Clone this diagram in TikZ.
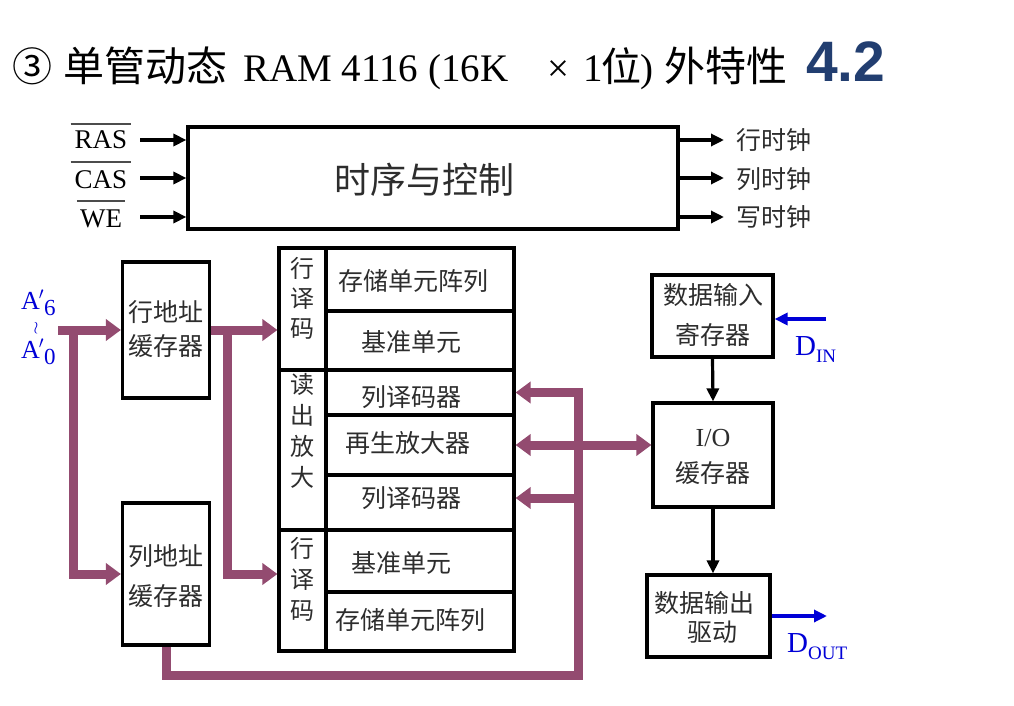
\documentclass[tikz,border=0pt]{standalone}
\usepackage{fontspec}
\setmainfont{Liberation Serif}
\newfontfamily\cjk{Noto Sans CJK SC}
\newfontfamily\hel{Liberation Sans}
\usetikzlibrary{arrows.meta}
\definecolor{plum}{RGB}{147,75,112}
\definecolor{dblue}{RGB}{0,0,215}
\definecolor{navy}{RGB}{34,62,112}
\definecolor{txt}{RGB}{45,45,45}
\begin{document}
\begin{tikzpicture}[x=1pt,y=-1pt,
  blk/.style={draw,line width=3.2pt,inner sep=0pt},
  cj/.style={font=\cjk\fontsize{25}{30}\selectfont,text=txt,inner sep=0pt},
  vcol/.style={font=\cjk\fontsize{24}{30}\selectfont,text=txt,inner sep=0pt,align=center},
  lat/.style={font=\fontsize{27}{30}\selectfont,inner sep=0pt},
  alab/.style={anchor=base west,inner sep=0,text=dblue,font=\fontsize{26}{26}\selectfont},
  barr/.style={line width=3.2pt,-{Triangle[length=13pt,width=12pt]}},
  blarr/.style={line width=3.2pt,color=dblue,-{Triangle[length=13pt,width=12pt]}},
  parr/.style={line width=9pt,color=plum,line join=miter,-{Triangle[length=15pt,width=21pt]}},
  pdbl/.style={line width=9pt,color=plum,{Triangle[length=15pt,width=21pt]}-{Triangle[length=15pt,width=21pt]}},
  ovl/.style={line width=1.2pt,color=black!70},
]
\useasboundingbox (0,0) rectangle (1014,706);
\fill[white] (0,0) rectangle (1014,706);

% ---------- title ----------
\node[anchor=base west,inner sep=0,font=\cjk\fontsize{40}{40}\selectfont] (t1) at (12,82) {③};
\node[anchor=base west,inner sep=0,font=\cjk\fontsize{41}{41}\selectfont] (t2) at (63,82) {单管动态};
\node[anchor=base west,inner sep=0,font=\fontsize{39}{39}\selectfont] (t3) at (243,82) {RAM 4116 (16K};
\node[anchor=base,inner sep=0,font=\fontsize{39}{39}\selectfont] (t4) at (558,82) {×};
\node[anchor=base west,inner sep=0,font=\fontsize{39}{39}\selectfont] (t5) at (583,82) {1};
\node[anchor=base west,inner sep=0,font=\cjk\fontsize{40}{40}\selectfont] (t6) at (601,82) {位};
\node[anchor=base west,inner sep=0,font=\fontsize{39}{39}\selectfont] (t7) at (640,82) {)};
\node[anchor=base west,inner sep=0,font=\cjk\fontsize{41}{41}\selectfont] (t8) at (664,82) {外特性};
\node[anchor=base west,inner sep=0,font=\hel\bfseries\fontsize{57}{57}\selectfont,text=navy] (t9) at (806,82) {4.2};

% ---------- timing & control ----------
\node[blk,minimum width=490pt,minimum height=102pt] (ctrl) at (433,178) {};
\node[cj,font=\cjk\fontsize{36}{36}\selectfont] (ctrlt) at (424,180) {时序与控制};

\node[lat,anchor=base] (lras) at (101,149) {RAS};
\node[lat,anchor=base] (lcas) at (101,188) {CAS};
\node[lat,anchor=base] (lwe) at (101,227) {WE};
\draw[ovl] ([xshift=-4pt,yshift=25pt]lras.base west) -- ([xshift=4pt,yshift=25pt]lras.base east);
\draw[ovl] ([xshift=-4pt,yshift=26pt]lcas.base west) -- ([xshift=4pt,yshift=26pt]lcas.base east);
\draw[ovl] ([xshift=-3pt,yshift=26pt]lwe.base west) -- ([xshift=3pt,yshift=26pt]lwe.base east);

\coordinate (iras) at (140,140);
\coordinate (icas) at (140,178);
\coordinate (iwe) at (140,217);
\draw[barr] (iras) -- (iras -| ctrl.west);
\draw[barr] (icas) -- (icas -| ctrl.west);
\draw[barr] (iwe) -- (iwe -| ctrl.west);

\coordinate (o1) at (724,140);
\coordinate (o2) at (724,178);
\coordinate (o3) at (724,217);
\draw[barr] (o1 -| ctrl.east) -- (o1);
\draw[barr] (o2 -| ctrl.east) -- (o2);
\draw[barr] (o3 -| ctrl.east) -- (o3);
\node[cj,anchor=west] (lo1) at (736,140) {行时钟};
\node[cj,anchor=west] (lo2) at (736,179) {列时钟};
\node[cj,anchor=west] (lo3) at (736,217) {写时钟};

% ---------- address buffers ----------
\node[blk,minimum width=87pt,minimum height=136pt] (rowbuf) at (166,330) {};
\node[cj] (rbt1) at (166,312) {行地址};
\node[cj] (rbt2) at (166,346) {缓存器};
\node[blk,minimum width=87pt,minimum height=142pt] (colbuf) at (166,574) {};
\node[cj] (cbt1) at (166,556) {列地址};
\node[cj] (cbt2) at (166,596) {缓存器};

% ---------- address inputs ----------
\node[alab] (a6) at (21,309)
  {A\kern-1pt$^{\prime}$\raisebox{-6pt}{\fontsize{23}{23}\selectfont 6}};
\node[inner sep=0,text=dblue,font=\fontsize{17}{17}\selectfont] (awr) at (36,328) {$\wr$};
\node[alab] (a0) at (21,358)
  {A\kern-1pt$^{\prime}$\raisebox{-6pt}{\fontsize{23}{23}\selectfont 0}};

% ---------- memory block ----------
\node[blk,minimum width=47pt,minimum height=122pt] (lc1) at (302.5,309) {};
\node[blk,minimum width=47pt,minimum height=160pt] (lc2) at (302.5,450) {};
\node[blk,minimum width=47pt,minimum height=121pt] (lc3) at (302.5,590.5) {};
\node[blk,minimum width=188pt,minimum height=63pt] (r1) at (420,279.5) {};
\node[blk,minimum width=188pt,minimum height=59pt] (r2) at (420,340.5) {};
\node[blk,minimum width=188pt,minimum height=45pt] (r3) at (420,392.5) {};
\node[blk,minimum width=188pt,minimum height=60pt] (r4) at (420,445) {};
\node[blk,minimum width=188pt,minimum height=55pt] (r5) at (420,502.5) {};
\node[blk,minimum width=188pt,minimum height=62pt] (r6) at (420,561) {};
\node[blk,minimum width=188pt,minimum height=59pt] (r7) at (420,621.5) {};

\node[vcol] (lc1t) at (302,298) {行\\译\\码};
\node[vcol,font=\cjk\fontsize{24}{31}\selectfont] (lc2t) at (302,431) {读\\出\\放\\大};
\node[vcol,font=\cjk\fontsize{24}{31}\selectfont] (lc3t) at (302,579) {行\\译\\码};
\node[cj] (r1t) at (413,281) {存储单元阵列};
\node[cj] (r2t) at (411,342) {基准单元};
\node[cj] (r3t) at (411,397) {列译码器};
\node[cj] (r4t) at (408,443) {再生放大器};
\node[cj] (r5t) at (411,498) {列译码器};
\node[cj] (r6t) at (401,563) {基准单元};
\node[cj] (r7t) at (410,620) {存储单元阵列};

% ---------- right side ----------
\node[blk,minimum width=121pt,minimum height=82pt] (inreg) at (712.5,316) {};
\node[cj] (irt1) at (713,295) {数据输入};
\node[cj] (irt2) at (713,335) {寄存器};
\node[blk,minimum width=120pt,minimum height=104pt] (iobuf) at (713,455) {};
\node[lat,font=\fontsize{26}{26}\selectfont,text=txt] (iot1) at (713,438) {I/O};
\node[cj] (iot2) at (713,473) {缓存器};
\node[blk,minimum width=123pt,minimum height=82pt] (outdrv) at (708.5,616) {};
\node[cj] (odt1) at (704,603) {数据输出};
\node[cj] (odt2) at (712,632) {驱动};

\draw[barr] (inreg.south) -- (iobuf.north);
\draw[barr] (iobuf.south) -- (iobuf.south |- outdrv.north);

\coordinate (din) at (826,319);
\draw[blarr] (din) -- (din -| inreg.east);
\node[anchor=base west,inner sep=0,text=dblue,font=\fontsize{29}{29}\selectfont] (ldin) at (795,355)
  {D\raisebox{-7pt}{\fontsize{19}{19}\selectfont IN}};
\coordinate (dout) at (827,616);
\draw[blarr] (outdrv.east) -- (dout);
\node[anchor=base west,inner sep=0,text=dblue,font=\fontsize{29}{29}\selectfont] (ldout) at (787,652)
  {D\raisebox{-7pt}{\fontsize{19}{19}\selectfont OUT}};

% ---------- purple buses ----------
\coordinate (ain) at (58,330);
\coordinate (ja) at (73,330);
\draw[parr] (ain) -- (rowbuf.west);
\draw[parr] (ja) |- (colbuf.west);
\coordinate (jb) at (227,330);
\draw[parr] (rowbuf.east) -- (rowbuf.east -| lc1.west);
\draw[parr] (jb) |- (lc3.west |- colbuf.west);
\coordinate (cb) at (578,675);
\draw[parr] (colbuf.south) |- (cb) |- (r3.east);
\coordinate (b2) at (578,498);
\draw[parr] (b2) -- (b2 -| r5.east);
\draw[pdbl] (r4.east) -- (r4.east -| iobuf.west);
\end{tikzpicture}
\end{document}
